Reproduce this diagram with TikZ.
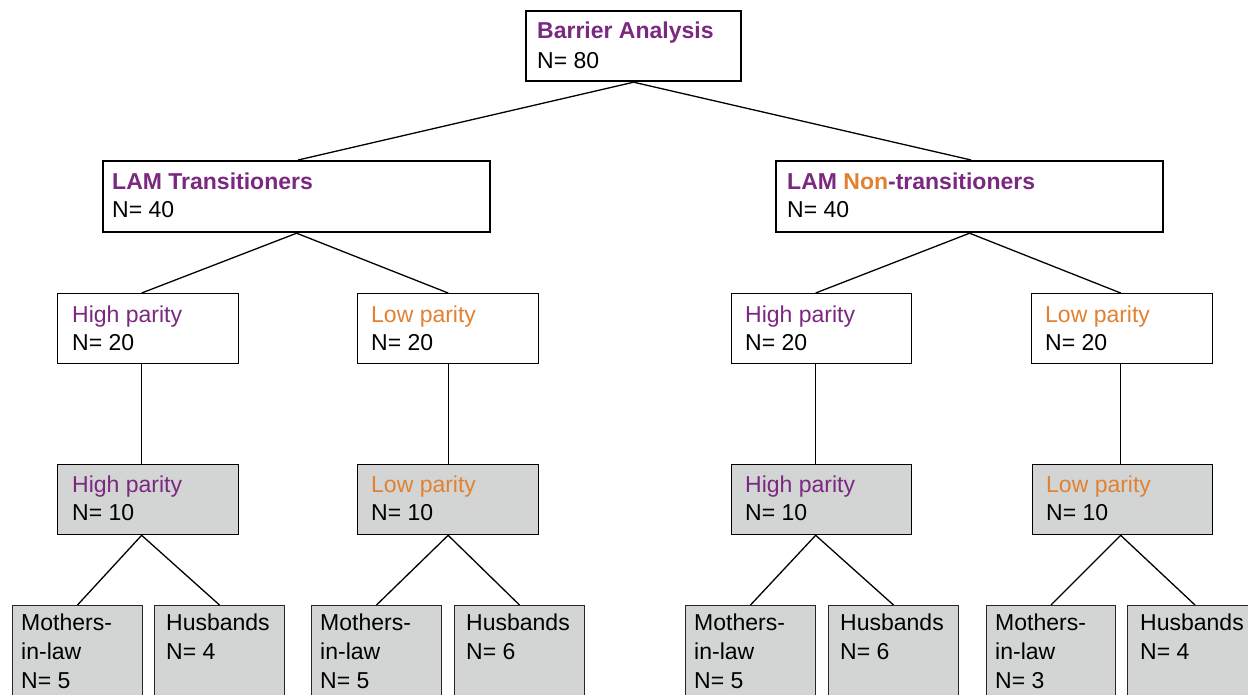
\documentclass[tikz,border=0pt]{standalone}
\usepackage{fontspec}
\setmainfont{Liberation Sans}
\definecolor{bpurple}{RGB}{122,40,128}
\definecolor{borange}{RGB}{224,130,50}
\definecolor{bgray}{RGB}{211,212,212}
\newcommand{\boxlines}[1]{\begin{tabular}[t]{@{}l@{}}#1\end{tabular}}
\begin{document}
\begin{tikzpicture}[x=1pt,y=-1pt,
  heavybox/.style={draw=black, line width=2.2pt, fill=white, inner sep=0pt, anchor=north west},
  plainbox/.style={draw=black, line width=1.3pt, fill=white, inner sep=0pt, anchor=north west, minimum width=181pt, minimum height=70pt},
  graybox/.style={draw=black, line width=1.3pt, fill=bgray, inner sep=0pt, anchor=north west, minimum width=181pt, minimum height=70pt},
  leafbox/.style={draw=black!85, line width=1pt, fill=bgray, inner sep=0pt, anchor=north west, minimum width=130pt, minimum height=120pt},
  txt/.style={inner sep=0pt, anchor=base west, font=\fontsize{23}{28}\selectfont},
  leaftxt/.style={inner sep=0pt, anchor=base west, font=\fontsize{23}{29}\selectfont},
  link/.style={draw=black, line width=1.3pt}]
\clip (0,0) rectangle (1248,694);

% level 1
\node[heavybox, minimum width=215pt, minimum height=70pt] (ba) at (525,10) {};
% level 2
\node[heavybox, minimum width=387pt, minimum height=71pt] (lt) at (102,160) {};
\node[heavybox, minimum width=387pt, minimum height=71pt] (ln) at (775,160) {};
% level 3
\node[plainbox] (h1) at (57,293) {};
\node[plainbox] (l1) at (357,293) {};
\node[plainbox, minimum width=180pt] (h3) at (731,293) {};
\node[plainbox] (l3) at (1031,293) {};
% level 4
\node[graybox] (gh1) at (57,464) {};
\node[graybox] (gl1) at (357,464) {};
\node[graybox, minimum width=180pt] (gh3) at (731,464) {};
\node[graybox, minimum width=180pt] (gl3) at (1032,464) {};
% level 5
\node[leafbox] (m1) at (12,605) {};
\node[leafbox] (b1) at (154,605) {};
\node[leafbox] (m2) at (311,605) {};
\node[leafbox] (b2) at (454,605) {};
\node[leafbox] (m3) at (685,605) {};
\node[leafbox] (b3) at (828,605) {};
\node[leafbox, minimum width=129pt] (m4) at (986,605) {};
\node[leafbox, minimum width=131pt] (b4) at (1127,605) {};

% connectors
\draw[link] (ba.south) -- ([xshift=1.5pt]lt.north);
\draw[link] (ba.south) -- ([xshift=1.5pt]ln.north);
\draw[link] (lt.south) -- ([xshift=-6.5pt]h1.north);
\draw[link] (lt.south) -- (l1.north);
\draw[link] (ln.south) -- ([xshift=-6pt]h3.north);
\draw[link] (ln.south) -- ([xshift=-1.5pt]l3.north);
\draw[link] ([xshift=-6.5pt]h1.south) -- ([xshift=-6.5pt]gh1.north);
\draw[link] (l1.south) -- (gl1.north);
\draw[link] ([xshift=-6pt]h3.south) -- ([xshift=-6pt]gh3.north);
\draw[link] ([xshift=-1.5pt]l3.south) -- ([xshift=-2pt]gl3.north);
\draw[link] ([xshift=-6.5pt]gh1.south) -- (m1.north);
\draw[link] ([xshift=-6.5pt]gh1.south) -- (b1.north);
\draw[link] (gl1.south) -- (m2.north);
\draw[link] (gl1.south) -- (b2.north);
\draw[link] ([xshift=-6pt]gh3.south) -- (m3.north);
\draw[link] ([xshift=-6pt]gh3.south) -- (b3.north);
\draw[link] ([xshift=-2pt]gl3.south) -- (m4.north);
\draw[link] ([xshift=-2pt]gl3.south) -- ([xshift=2pt]b4.north);

% texts
\node[txt, font=\fontsize{23}{29.5}\selectfont] (tba) at ([shift={(12,28.5)}]ba.north west)
  {\boxlines{\textbf{\color{bpurple}Barrier Analysis}\\N= 80}};
\node[txt] (tlt) at ([shift={(10,29.5)}]lt.north west)
  {\boxlines{\textbf{\color{bpurple}LAM Transitioners}\\N= 40}};
\node[txt] (tln) at ([shift={(12,29.5)}]ln.north west)
  {\boxlines{\textbf{\color{bpurple}LAM \textcolor{borange}{Non}-transitioners}\\N= 40}};

\node[txt] (th1) at ([shift={(15,29.5)}]h1.north west) {\boxlines{\color{bpurple}High parity\\N= 20}};
\node[txt] (tl1) at ([shift={(14,29.5)}]l1.north west) {\boxlines{\color{borange}Low parity\\N= 20}};
\node[txt] (th3) at ([shift={(14,29.5)}]h3.north west) {\boxlines{\color{bpurple}High parity\\N= 20}};
\node[txt] (tl3) at ([shift={(14,29.5)}]l3.north west) {\boxlines{\color{borange}Low parity\\N= 20}};

\node[txt] (tgh1) at ([shift={(15,28.5)}]gh1.north west) {\boxlines{\color{bpurple}High parity\\N= 10}};
\node[txt] (tgl1) at ([shift={(14,28.5)}]gl1.north west) {\boxlines{\color{borange}Low parity\\N= 10}};
\node[txt] (tgh3) at ([shift={(14,28.5)}]gh3.north west) {\boxlines{\color{bpurple}High parity\\N= 10}};
\node[txt] (tgl3) at ([shift={(14,28.5)}]gl3.north west) {\boxlines{\color{borange}Low parity\\N= 10}};

\node[leaftxt] (tm1) at ([shift={(9,25.5)}]m1.north west) {\boxlines{Mothers-\\in-law\\N= 5}};
\node[leaftxt] (tb1) at ([shift={(12,25.5)}]b1.north west) {\boxlines{Husbands\\N= 4}};
\node[leaftxt] (tm2) at ([shift={(9,25.5)}]m2.north west) {\boxlines{Mothers-\\in-law\\N= 5}};
\node[leaftxt] (tb2) at ([shift={(12,25.5)}]b2.north west) {\boxlines{Husbands\\N= 6}};
\node[leaftxt] (tm3) at ([shift={(9,25.5)}]m3.north west) {\boxlines{Mothers-\\in-law\\N= 5}};
\node[leaftxt] (tb3) at ([shift={(12,25.5)}]b3.north west) {\boxlines{Husbands\\N= 6}};
\node[leaftxt] (tm4) at ([shift={(9,25.5)}]m4.north west) {\boxlines{Mothers-\\in-law\\N= 3}};
\node[leaftxt] (tb4) at ([shift={(13,25.5)}]b4.north west) {\boxlines{Husbands\\N= 4}};
\end{tikzpicture}
\end{document}
